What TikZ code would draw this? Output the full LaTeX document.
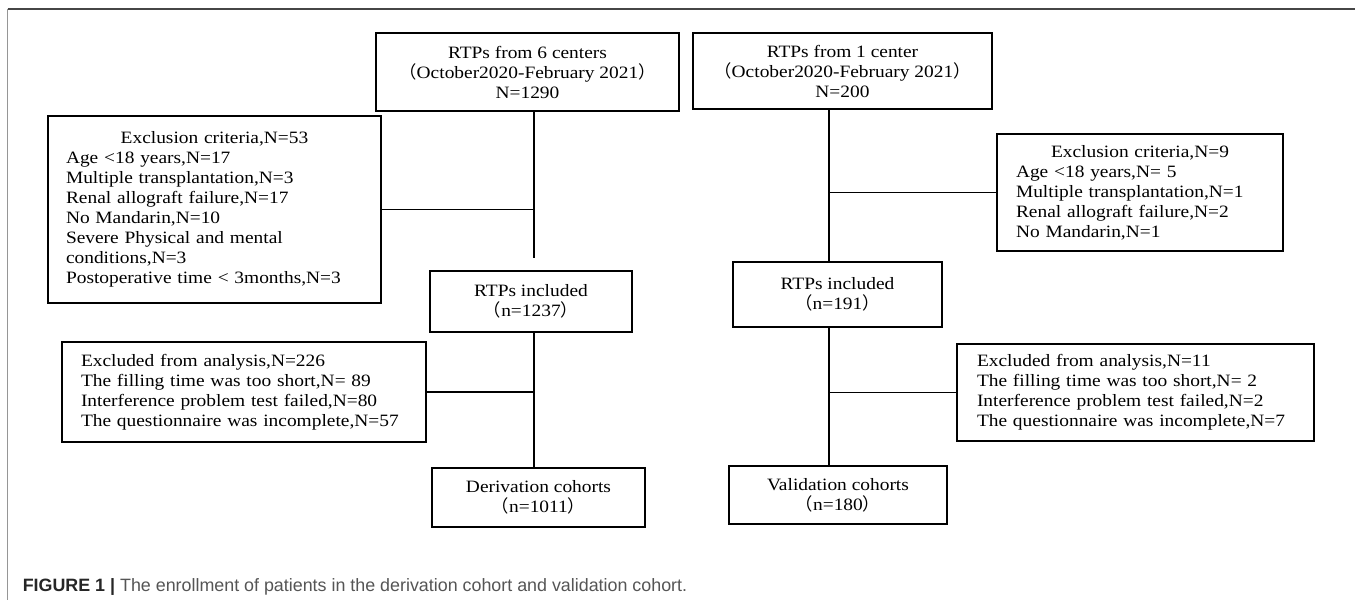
\documentclass[tikz,border=0pt]{standalone}
\usepackage{fontspec}
\setmainfont{Liberation Serif}[FakeStretch=1.12]
\newfontfamily\capfont{Liberation Sans}
\newfontfamily\cjk{Noto Sans CJK SC}
\usetikzlibrary{positioning,calc}
\newcommand{\fwl}{{\cjk （}}
\newcommand{\fwr}{{\cjk ）}}
\definecolor{framegray}{RGB}{150,150,150}
\definecolor{framedark}{RGB}{70,70,70}
\definecolor{capgray}{RGB}{85,85,85}

\begin{document}
\begin{tikzpicture}[x=0.75pt,y=-0.75pt,
  every node/.style={font=\fontsize{13}{15}\selectfont},
  box/.style={draw,line width=1.1pt,align=center,inner sep=2pt},
  exclbox/.style={box,align=left,inner ysep=4pt},
  conn/.style={line width=1.2pt}]
  \useasboundingbox (0,0) rectangle (1355,600);
  % page frame
  \draw[framedark,line width=1.5pt] (7.5,9) -- (1355,9);
  \draw[framegray,line width=1.2pt] (7.5,9) -- (7.5,600);
  \coordinate (lx) at (534,0);
  \coordinate (rx) at (829,0);
  % derivation side
  \node[box,minimum width=227.25pt,minimum height=58.5pt] (six) at (527.5,72) {
    RTPs from 6 centers\\
    \fwl October2020-February 2021\fwr\\
    N=1290
  };
  \node[exclbox,text width=222.75pt,inner xsep=13.5pt,minimum height=140.25pt] (exclsix) at (214.5,209.5) {
    \makebox[\linewidth]{Exclusion criteria,N=53}\\
    Age <18 years,N=17\\
    Multiple transplantation,N=3\\
    Renal allograft failure,N=17\\
    No Mandarin,N=10\\
    Severe Physical and mental\\
    conditions,N=3\\
    Postoperative time < 3months,N=3
  };
  \node[box,minimum width=151.5pt,minimum height=45.75pt] (incsix) at (531,301.5) {
    RTPs included\\
    \fwl n=1237\fwr
  };
  \node[exclbox,text width=244.5pt,inner xsep=14.25pt,minimum height=75pt] (anasix) at (244,392) {
    Excluded from analysis,N=226\\
    The filling time was too short,N= 89\\
    Interference problem test failed,N=80\\
    The questionnaire was incomplete,N=57
  };
  \node[box,minimum width=159.75pt,minimum height=44.25pt] (derive) at (538.5,497.5) {
    Derivation cohorts\\
    \fwl n=1011\fwr
  };
  % validation side
  \node[box,minimum width=224.25pt,minimum height=57pt] (one) at (842.5,71) {
    RTPs from 1 center\\
    \fwl October2020-February 2021\fwr\\
    N=200
  };
  \node[exclbox,text width=186pt,inner xsep=14.25pt,minimum height=87.75pt] (exclone) at (1140,192.5) {
    \makebox[\linewidth]{Exclusion criteria,N=9}\\
    Age <18 years,N= 5\\
    Multiple transplantation,N=1\\
    Renal allograft failure,N=2\\
    No Mandarin,N=1
  };
  \node[box,minimum width=156.75pt,minimum height=48.75pt] (incone) at (837.5,294.5) {
    RTPs included\\
    \fwl n=191\fwr
  };
  \node[exclbox,text width=237.75pt,inner xsep=15pt,minimum height=72.75pt] (anaone) at (1135.5,392.5) {
    Excluded from analysis,N=11\\
    The filling time was too short,N= 2\\
    Interference problem test failed,N=2\\
    The questionnaire was incomplete,N=7
  };
  \node[box,line width=2.2pt,minimum width=163.5pt,minimum height=43.5pt] (valid) at (838,495) {
    Validation cohorts\\
    \fwl n=180\fwr
  };
  % connectors
  \draw[conn] (six.south -| lx) -- ([yshift=9pt]incsix.north -| lx);
  \draw[conn] (exclsix.east) -- (exclsix.east -| lx);
  \draw[conn] (incsix.south -| lx) -- (derive.north -| lx);
  \draw[conn] (anasix.east) -- (anasix.east -| lx);
  \draw[conn] (one.south -| rx) -- (incone.north -| rx);
  \draw[conn] (exclone.west) -- (exclone.west -| rx);
  \draw[conn] (incone.south -| rx) -- (valid.north -| rx);
  \draw[conn] (anaone.west) -- (anaone.west -| rx);
  % caption
  \node[anchor=base west,font=\capfont\fontsize{13.4}{15}\selectfont,inner sep=0pt] (cap) at (22.5,591)
    {\textcolor{black!85}{\bfseries FIGURE 1 |} \textcolor{capgray}{The enrollment of patients in the derivation cohort and validation cohort.}};
\end{tikzpicture}
\end{document}
